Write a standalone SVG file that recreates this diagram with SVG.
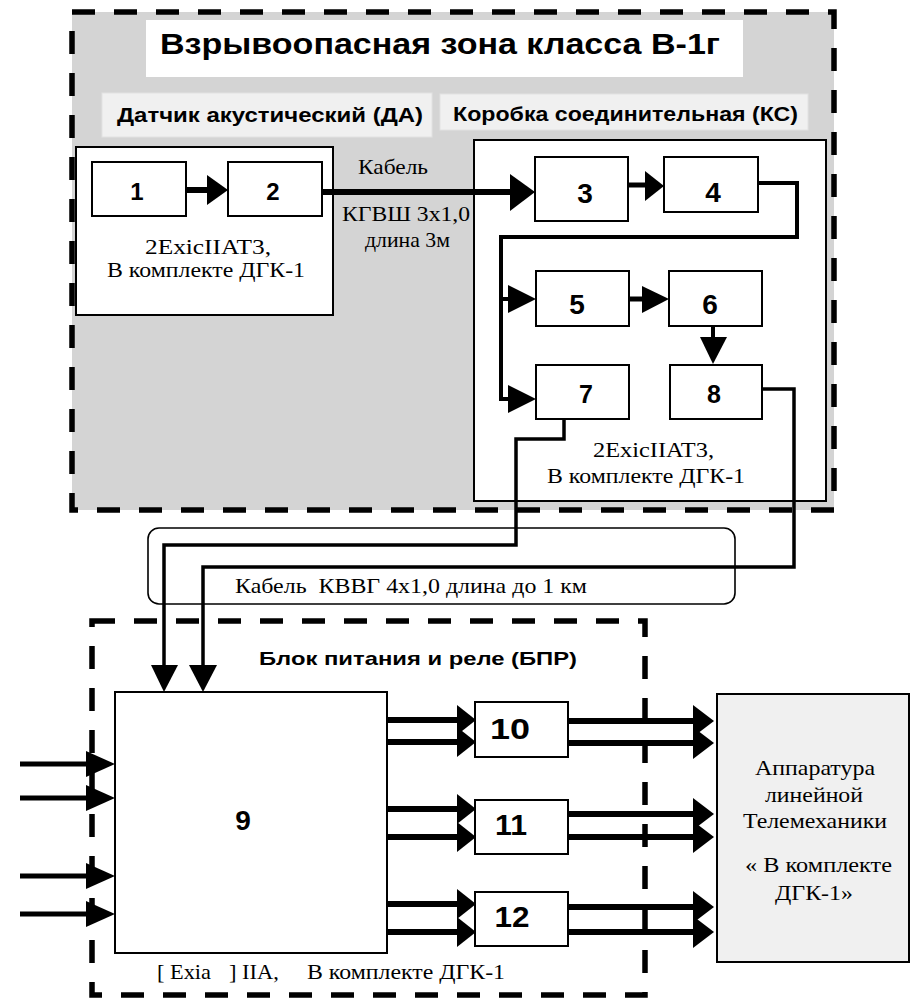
<svg xmlns="http://www.w3.org/2000/svg" width="910" height="999" viewBox="0 0 910 999">
<style>
.box{fill:#fff;stroke:#000;stroke-width:2}
.lbl{fill:#f0f0f0;stroke:#e2e2e2;stroke-width:1}
.dash{fill:none;stroke:#000;stroke-width:5.5;stroke-dasharray:23 19}
.sans{font-family:"Liberation Sans",Arial,sans-serif;font-weight:bold;fill:#000}
.serif{font-family:"Liberation Serif","Times New Roman",serif;fill:#000;font-size:22px;white-space:pre}
.num{font-family:"Liberation Sans",Arial,sans-serif;font-weight:bold;text-anchor:middle}
.w{fill:none;stroke:#000;stroke-linejoin:miter}
.ah{fill:#000}
</style>
<g id="zone-b1g">
<rect x="72" y="12" width="762" height="498" fill="#d4d4d4"/>
</g>
<g id="title">
<rect x="146" y="20" width="597" height="57" fill="#fff"/>
<text class="sans" x="160" y="54" font-size="29" textLength="560" lengthAdjust="spacingAndGlyphs">Взрывоопасная зона класса В-1г</text>
</g>
<g id="label-da">
<rect class="lbl" x="102" y="93" width="330" height="44"/>
<text class="sans" x="117" y="122" font-size="20" textLength="306" lengthAdjust="spacingAndGlyphs">Датчик акустический (ДА)</text>
</g>
<g id="label-ks">
<rect class="lbl" x="440" y="94" width="368" height="36"/>
<text class="sans" x="453" y="121" font-size="20" textLength="345" lengthAdjust="spacingAndGlyphs">Коробка соединительная (КС)</text>
</g>
<g id="box-da">
<rect class="box" x="76" y="147" width="257" height="168"/>
<text class="serif" x="145" y="254" font-size="24" textLength="126" lengthAdjust="spacingAndGlyphs">2ExicIIAT3,</text>
<text class="serif" x="107" y="277" textLength="198" lengthAdjust="spacingAndGlyphs">В комплекте ДГК-1</text>
</g>
<g id="box-ks">
<rect class="box" x="474" y="140" width="352" height="361"/>
<text class="serif" x="593" y="457" font-size="23" textLength="121" lengthAdjust="spacingAndGlyphs">2ExicIIAT3,</text>
<text class="serif" x="547" y="483" textLength="198" lengthAdjust="spacingAndGlyphs">В комплекте ДГК-1</text>
</g>
<g id="cable-label-top">
<text class="serif" x="358" y="174" textLength="70" lengthAdjust="spacingAndGlyphs">Кабель</text>
<text class="serif" x="342" y="221" textLength="128" lengthAdjust="spacingAndGlyphs">КГВШ 3х1,0</text>
<text class="serif" x="365" y="247" textLength="85" lengthAdjust="spacingAndGlyphs">длина 3м</text>
</g>
<g id="n1"><rect class="box" x="92" y="162" width="94" height="54"/><text class="num" x="137" y="200" font-size="24">1</text></g>
<g id="n2"><rect class="box" x="228" y="162" width="94" height="54"/><text class="num" x="273" y="200" font-size="24">2</text></g>
<g id="n3"><rect class="box" x="535" y="157" width="93" height="64"/><text class="num" x="585" y="203" font-size="28">3</text></g>
<g id="n4"><rect class="box" x="664" y="157" width="94" height="55"/><text class="num" x="713" y="202" font-size="28">4</text></g>
<g id="n5"><rect class="box" x="536" y="271" width="93" height="55"/><text class="num" x="577" y="314" font-size="28">5</text></g>
<g id="n6"><rect class="box" x="669" y="271" width="93" height="55"/><text class="num" x="710" y="314" font-size="28">6</text></g>
<g id="n7"><rect class="box" x="536" y="365" width="93" height="54"/><text class="num" x="586" y="403" font-size="25">7</text></g>
<g id="n8"><rect class="box" x="670" y="365" width="92" height="54"/><text class="num" x="714" y="403" font-size="25">8</text></g>
<g id="zone-b1g-border">
<rect class="dash" x="72" y="12" width="762" height="498"/>
</g>
<g id="cable-kvvg">
<rect x="148" y="528" width="587" height="76" rx="11" fill="none" stroke="#000" stroke-width="1.6"/>
<text class="serif" x="235" y="593" textLength="352" lengthAdjust="spacingAndGlyphs">Кабель  КВВГ 4х1,0 длина до 1 км</text>
</g>
<g id="zone-bpr">
<rect class="dash" x="92" y="621" width="553" height="374"/>
<text class="sans" x="259" y="665" font-size="19" textLength="318" lengthAdjust="spacingAndGlyphs">Блок питания и реле (БПР)</text>
</g>
<g id="n9">
<rect class="box" x="115" y="692" width="272" height="261"/>
<text class="num" x="243" y="830" font-size="28">9</text>
<text class="serif" x="157" y="979" textLength="54" lengthAdjust="spacingAndGlyphs">[ Exia</text>
<text class="serif" x="229" y="979" textLength="50" lengthAdjust="spacingAndGlyphs">] IIA,</text>
<text class="serif" x="307" y="979" textLength="198" lengthAdjust="spacingAndGlyphs">В комплекте ДГК-1</text>
</g>
<g id="n10"><rect class="box" x="475" y="702" width="93" height="55"/><text class="num" x="510" y="739" font-size="30" textLength="40" lengthAdjust="spacingAndGlyphs">10</text></g>
<g id="n11"><rect class="box" x="475" y="800" width="93" height="54"/><text class="num" x="511" y="835" font-size="30" textLength="32" lengthAdjust="spacingAndGlyphs">11</text></g>
<g id="n12"><rect class="box" x="475" y="892" width="93" height="54"/><text class="num" x="512" y="927" font-size="30" textLength="35" lengthAdjust="spacingAndGlyphs">12</text></g>
<g id="apparatus">
<rect x="717" y="694" width="192" height="268" fill="#f0f0f0" stroke="#000" stroke-width="2"/>
<text class="serif" x="755" y="775" textLength="120" lengthAdjust="spacingAndGlyphs">Аппаратура</text>
<text class="serif" x="765" y="802" textLength="98" lengthAdjust="spacingAndGlyphs">линейной</text>
<text class="serif" x="743" y="828" textLength="144" lengthAdjust="spacingAndGlyphs">Телемеханики</text>
<text class="serif" x="745" y="872" textLength="147" lengthAdjust="spacingAndGlyphs">« В комплекте</text>
<text class="serif" x="775" y="900" textLength="78" lengthAdjust="spacingAndGlyphs">ДГК-1»</text>
</g>
<g id="connectors">
<path class="w" stroke-width="6" d="M186 190H208"/>
<polygon class="ah" points="207,175 228,190 207,205"/>
<path class="w" stroke-width="6" d="M322 192H511"/>
<polygon class="ah" points="510,174 535,192 510,211"/>
<path class="w" stroke-width="5" d="M628 185H646"/>
<polygon class="ah" points="645,171 664,186 645,201"/>
<path class="w" stroke-width="4" d="M758 183H797V237H501V399H509"/>
<polygon class="ah" points="508,385 536,399 508,413"/>
<path class="w" stroke-width="4" d="M501 299H509"/>
<polygon class="ah" points="508,285 536,299 508,313"/>
<path class="w" stroke-width="5" d="M629 299H643"/>
<polygon class="ah" points="642,286 669,299 642,313"/>
<path class="w" stroke-width="4" d="M713 326V338"/>
<polygon class="ah" points="700,337 713,364 727,337"/>
<path class="w" stroke-width="3.5" d="M564 419V439H516V545H164V666"/>
<polygon class="ah" points="151,665 164,692 178,665"/>
<path class="w" stroke-width="3.5" d="M762 389H794V567H203V666"/>
<polygon class="ah" points="189,665 203,692 217,665"/>
<path class="w" stroke-width="5" d="M20 764H87M20 798H87M20 876H87M20 914H87"/>
<polygon class="ah" points="86,751 115,764 86,777"/>
<polygon class="ah" points="86,785 115,798 86,811"/>
<polygon class="ah" points="86,863 115,876 86,889"/>
<polygon class="ah" points="86,901 115,914 86,927"/>
<path class="w" stroke-width="6" d="M387 720H458M387 742H458M387 809H458M387 837H458M387 904H458M387 932H458"/>
<polygon class="ah" points="457,705 476,720 457,735"/>
<polygon class="ah" points="457,727 476,742 457,757"/>
<polygon class="ah" points="457,794 476,809 457,824"/>
<polygon class="ah" points="457,822 476,837 457,852"/>
<polygon class="ah" points="457,889 476,904 457,919"/>
<polygon class="ah" points="457,917 476,932 457,947"/>
<path class="w" stroke-width="6" d="M568 721H694M568 743H694M568 814H694M568 837H694M568 907H694M568 932H694"/>
<polygon class="ah" points="693,705 714,721 693,737"/>
<polygon class="ah" points="693,727 714,743 693,759"/>
<polygon class="ah" points="693,798 714,814 693,830"/>
<polygon class="ah" points="693,821 714,837 693,853"/>
<polygon class="ah" points="693,891 714,907 693,923"/>
<polygon class="ah" points="693,916 714,932 693,948"/>
</g>
</svg>
